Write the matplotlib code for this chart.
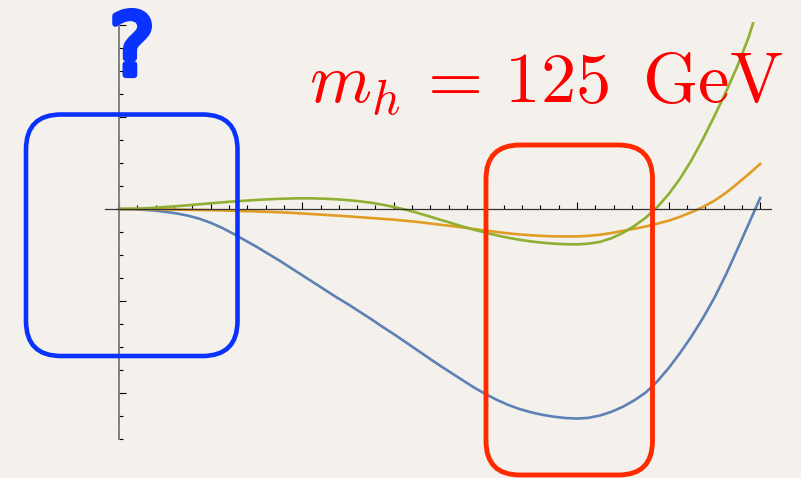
"""
effective potential curves near the origin and around the electroweak minimum
"""
import matplotlib.pyplot as plt
from matplotlib.patches import FancyBboxPatch
from matplotlib.ticker import MultipleLocator
import matplotlib.patheffects as pe

plt.rcParams["mathtext.fontset"] = "cm"

# field value (arbitrary units, one unit per major tick, sampled every 1/8)
phi = [i / 8 for i in range(57)]

# potential for the three parameter choices
v_blue = [0.0, -0.002, -0.008, -0.016, -0.03, -0.048, -0.072, -0.105,
          -0.15, -0.205, -0.27, -0.34, -0.41, -0.485, -0.56, -0.64,
          -0.72, -0.80, -0.88, -0.96, -1.035, -1.115, -1.195, -1.28,
          -1.36, -1.445, -1.53, -1.615, -1.70, -1.78, -1.86, -1.94,
          -2.01, -2.075, -2.13, -2.175, -2.21, -2.238, -2.258, -2.272,
          -2.278, -2.27, -2.245, -2.205, -2.15, -2.08, -1.995, -1.875,
          -1.73, -1.565, -1.385, -1.185, -0.965, -0.715, -0.44, -0.16,
          0.12]
v_orange = [0.0, -0.001, -0.002, -0.003, -0.005, -0.007, -0.009, -0.011,
            -0.013, -0.016, -0.02, -0.023, -0.027, -0.031, -0.036, -0.042,
            -0.049, -0.056, -0.064, -0.072, -0.08, -0.089, -0.098, -0.107,
            -0.116, -0.128, -0.14, -0.155, -0.17, -0.185, -0.20, -0.218,
            -0.235, -0.25, -0.265, -0.277, -0.286, -0.293, -0.297, -0.299,
            -0.298, -0.292, -0.28, -0.262, -0.238, -0.215, -0.19, -0.16,
            -0.127, -0.085, -0.035, 0.022, 0.09, 0.175, 0.275, 0.38, 0.49]
v_green = [0.0, 0.002, 0.006, 0.013, 0.021, 0.03, 0.04, 0.051,
           0.062, 0.072, 0.082, 0.09, 0.098, 0.105, 0.11, 0.114,
           0.116, 0.115, 0.111, 0.105, 0.096, 0.084, 0.068, 0.047,
           0.022, -0.007, -0.04, -0.077, -0.115, -0.152, -0.19, -0.225,
           -0.257, -0.287, -0.313, -0.335, -0.353, -0.367, -0.377, -0.383,
           -0.385, -0.377, -0.358, -0.318, -0.26, -0.185, -0.095, 0.02,
           0.16, 0.33, 0.53, 0.76, 1.01, 1.27, 1.55, 1.87, 2.27]

label = r"$m_h\,=\,125\ \,\mathrm{GeV}$"

W, H = 801, 478
fig = plt.figure(figsize=(W / 100, H / 100), dpi=100)
fig.set_facecolor("#f4f1ec")

# main plot, axes crossing at the origin (Mathematica style)
ax = fig.add_axes([105 / W, 39 / H, 666.2 / W, 416.8 / H])
ax.set_facecolor("none")
for v, c in ((v_blue, "#5e81b5"), (v_orange, "#e19c24"), (v_green, "#8fb032")):
    ax.plot(phi, v, color=c, lw=1.9, solid_joinstyle="round")
ax.set_xlim(-0.153, 7.12)
ax.set_ylim(-2.5, 2.03)

for s in ("top", "right"):
    ax.spines[s].set_visible(False)
ax.spines["left"].set_position(("data", 0))
ax.spines["bottom"].set_position(("data", 0))
ax.spines["left"].set_color("#808080")
ax.spines["left"].set_linewidth(1.4)
ax.spines["bottom"].set_color("#333333")
ax.spines["bottom"].set_linewidth(0.9)

ax.xaxis.set_major_locator(MultipleLocator(1))
ax.xaxis.set_minor_locator(MultipleLocator(0.2))
ax.yaxis.set_major_locator(MultipleLocator(1))
ax.yaxis.set_minor_locator(MultipleLocator(0.25))
ax.tick_params(which="both", direction="in", labelbottom=False,
               labelleft=False, color="black", width=0.8)
ax.tick_params(which="major", length=4.8)
ax.tick_params(which="minor", length=3.0)

# overlay in pixel units for the highlight boxes and labels
ov = fig.add_axes([0, 0, 1, 1], zorder=5)
ov.set_xlim(0, W)
ov.set_ylim(H, 0)
ov.axis("off")
ov.patch.set_alpha(0)

ov.add_patch(FancyBboxPatch((26, 114.5), 211.5, 241.5,
                            boxstyle="round,pad=0,rounding_size=35",
                            fill=False, ec="#0a32ff", lw=3.3))
ov.add_patch(FancyBboxPatch((486, 145), 166.5, 330,
                            boxstyle="round,pad=0,rounding_size=34",
                            fill=False, ec="#ff2a00", lw=3.5))

ov.text(132, 75, "?", color="#0a32ff", fontsize=62,
        family=["Liberation Sans Narrow", "DejaVu Sans"],
        ha="center", va="baseline",
        path_effects=[pe.withStroke(linewidth=4.5, foreground="#0a32ff",
                                    capstyle="round", joinstyle="round")])
ov.text(309, 103, label, color="red", fontsize=51, ha="left",
        va="baseline")

plt.savefig("out.png", dpi=100, facecolor=fig.get_facecolor())
